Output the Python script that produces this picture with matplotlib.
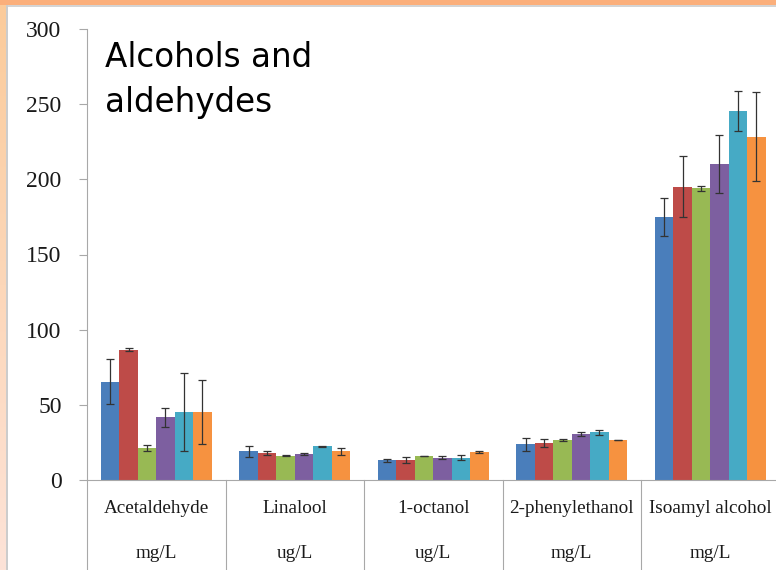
import numpy as np
import matplotlib
matplotlib.use("Agg")
import matplotlib.pyplot as plt
from matplotlib.patches import Rectangle

# ---- data ----
compounds = ["Acetaldehyde", "Linalool", "1-octanol", "2-phenylethanol", "Isoamyl alcohol"]
units = ["mg/L", "ug/L", "ug/L", "mg/L", "mg/L"]

s1 = [65.4, 19.1, 13.1, 23.7, 175.2]
s2 = [86.5, 17.9, 13.5, 24.6, 195.2]
s3 = [21.3, 16.2, 16.0, 26.8, 194.1]
s4 = [41.7, 17.5, 14.9, 30.8, 210.2]
s5 = [45.5, 22.4, 14.9, 31.7, 245.5]
s6 = [45.5, 19.1, 18.9, 26.4, 228.4]

e1 = [15.0, 3.7, 1.2, 4.2, 12.6]
e2 = [1.0, 1.4, 1.9, 2.5, 20.2]
e3 = [1.8, 0.3, 0.2, 0.8, 1.7]
e4 = [6.3, 0.7, 1.0, 1.3, 19.4]
e5 = [26.0, 0.2, 1.7, 1.7, 13.4]
e6 = [21.3, 2.2, 0.7, 0.1, 29.8]

yticks = [0, 50, 100, 150, 200, 250, 300]

series = [s1, s2, s3, s4, s5, s6]
errors = [e1, e2, e3, e4, e5, e6]
colors = ["#4A7EBB", "#BE4B48", "#98B954", "#7D5FA0", "#46AAC5", "#F69240"]

W, H = 776, 570
fig = plt.figure(figsize=(W / 100, H / 100), dpi=100, facecolor="white")

# ---- slide background: orange top band and peach left band ----
bg = fig.add_axes([0, 0, 1, 1], zorder=-10)
bg.set_xlim(0, W)
bg.set_ylim(H, 0)
bg.axis("off")
top_c = np.array([251, 203, 154]) / 255
bot_c = np.array([253, 227, 216]) / 255
t = np.linspace(0, 1, 256)[:, None, None]
grad = top_c * (1 - t) + bot_c * t
bg.imshow(grad, extent=(0, 6, H, 0), aspect="auto", interpolation="bilinear")
bg.add_patch(Rectangle((0, 0), W, 5, facecolor="#FBAF7B", edgecolor="none"))
bg.add_patch(Rectangle((6, 5), W, 2, facecolor="#D4D4D4", edgecolor="none"))
bg.add_patch(Rectangle((6, 5), 1.5, H, facecolor="#CCCCCC", edgecolor="none"))

# ---- main chart ----
x0, x1 = 87, 779.5
y_top, y_base = 29, 480
ax = fig.add_axes([x0 / W, (H - y_base) / H, (x1 - x0) / W, (y_base - y_top) / H])
ax.set_facecolor("none")

n = len(series)
bw = 0.8 / n
x = np.arange(len(compounds))
for i, (vals, errs, c) in enumerate(zip(series, errors, colors)):
    ax.bar(x + (i - (n - 1) / 2) * bw, vals, width=bw, color=c, edgecolor="none",
           yerr=errs, error_kw=dict(ecolor="#333333", elinewidth=0.9,
                                    capsize=3.2, capthick=0.9), zorder=2)

ax.set_xlim(-0.5, len(compounds) - 0.5)
ax.set_ylim(0, 300)
ax.set_yticks(yticks)
ax.set_yticklabels([str(v) for v in yticks], family="Liberation Serif",
                   fontsize=17, color="#1a1a1a")
ax.tick_params(axis="y", direction="out", length=5.8, width=0.8,
               color="#A8A8A8", pad=12.5)
ax.set_xticks([])
for s in ("top", "right"):
    ax.spines[s].set_visible(False)
for s in ("left", "bottom"):
    ax.spines[s].set_color("#A8A8A8")
    ax.spines[s].set_linewidth(0.8)

# table-style category row beneath the axis
px_per_unit = (y_base - y_top) / 300
depth = (H - y_base) / px_per_unit
for k in range(len(compounds)):
    ax.plot([k - 0.5, k - 0.5], [0, -depth], color="#A8A8A8", lw=0.8,
            clip_on=False, zorder=1)
trans = ax.get_xaxis_transform()
for k, (name, unit) in enumerate(zip(compounds, units)):
    ax.annotate(name, xy=(k, 0), xycoords=trans, xytext=(0, -20.6),
                textcoords="offset points", ha="center", va="center",
                family="Liberation Serif", fontsize=13.8, color="#1a1a1a")
    ax.annotate(unit, xy=(k, 0), xycoords=trans, xytext=(0, -52.6),
                textcoords="offset points", ha="center", va="center",
                family="Liberation Serif", fontsize=13.8, color="#1a1a1a")

# heading
fig.text(105 / W, (H - 67) / H, "Alcohols and", family="DejaVu Sans",
         fontsize=23.5, color="black", ha="left", va="baseline")
fig.text(105 / W, (H - 112) / H, "aldehydes", family="DejaVu Sans",
         fontsize=23.5, color="black", ha="left", va="baseline")

fig.savefig("out.png", dpi=100, facecolor="white")
